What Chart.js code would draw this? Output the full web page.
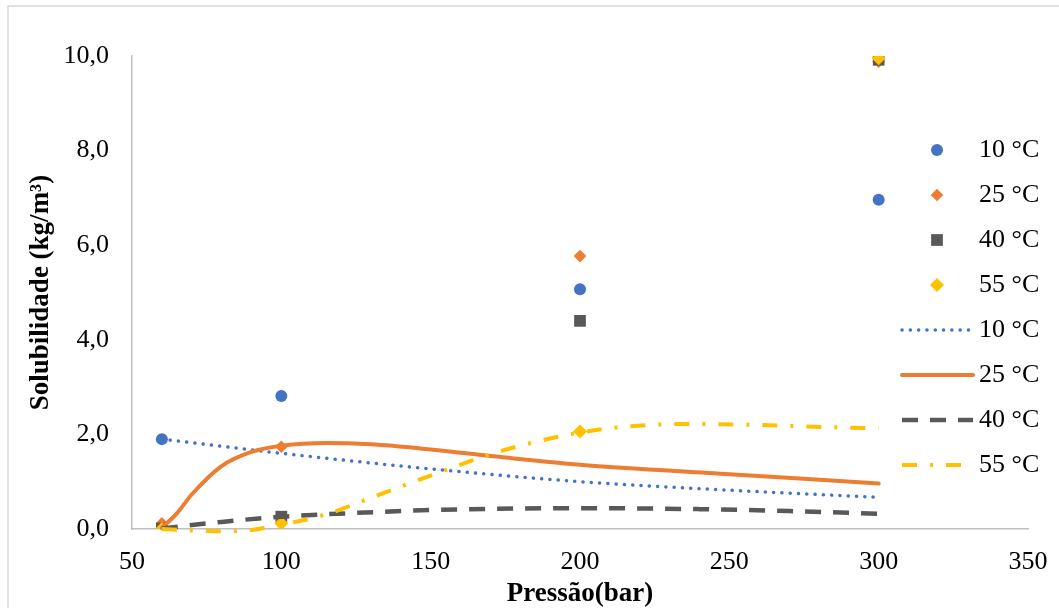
<!DOCTYPE html>
<html>
<head>
    <title>Solubilidade vs Pressão</title>
    <script src="https://cdn.jsdelivr.net/npm/chart.js"></script>
    <style>
        html, body {
            margin: 0;
            padding: 0;
            background: #ffffff;
        }
        .chart-container {
            width: 1059px;
            height: 608px;
        }
    </style>
</head>
<body>
    <div class="chart-container">
        <canvas id="solubilityChart"></canvas>
    </div>
    <script>
        // Experimental points (pressure in bar, solubility in kg/m3)
        const pressures = [60, 100, 200, 300];
        const exp10 = [1.90, 2.81, 5.07, 6.96];
        const exp25 = [0.12, 1.74, 5.77, 9.88];
        const exp40 = [0.01, 0.26, 4.40, 9.92];
        const exp55 = [0.00, 0.12, 2.06, 9.95];

        // Model curves
        const fitP10 = [60, 100, 150, 200, 250, 300];
        const fit10 = [1.90, 1.60, 1.27, 1.00, 0.82, 0.67];
        const fitP25 = [60, 65, 70, 80, 90, 100, 115, 130, 150, 175, 200, 250, 300];
        const fit25 = [0.02, 0.33, 0.73, 1.33, 1.63, 1.76, 1.82, 1.79, 1.68, 1.51, 1.36, 1.16, 0.96];
        const fitP40 = [60, 80, 100, 125, 150, 200, 240, 270, 300];
        const fit40 = [0.01, 0.15, 0.26, 0.34, 0.40, 0.44, 0.42, 0.38, 0.32];
        const fitP55 = [60, 70, 80, 90, 100, 115, 130, 150, 170, 185, 200, 215, 235, 260, 285, 300];
        const fit55 = [0.00, -0.03, -0.05, -0.02, 0.09, 0.31, 0.66, 1.13, 1.58, 1.84, 2.04, 2.16, 2.22, 2.20, 2.15, 2.13];

        const seriesLabels = ['10 °C', '25 °C', '40 °C', '55 °C'];
        const xTicks = [50, 100, 150, 200, 250, 300, 350];
        const yTicks = [0, 2, 4, 6, 8, 10];

        const BLUE = '#4472C4';
        const ORANGE = '#ED7D31';
        const GRAY = '#595959';
        const GOLD = '#FFC000';
        const SERIF = '"Liberation Serif", "Times New Roman", serif';

        const toXY = (xs, ys) => xs.map((x, i) => ({ x: x, y: ys[i] }));

        function pointSet(label, values, color, style, radius, order) {
            return {
                label: label,
                data: toXY(pressures, values),
                showLine: false,
                pointStyle: style,
                pointRadius: radius,
                pointHoverRadius: radius,
                pointBackgroundColor: color,
                pointBorderColor: color,
                pointBorderWidth: 0,
                order: order
            };
        }

        function curveSet(label, xs, ys, color, width, dash, cap, order) {
            return {
                label: label,
                data: toXY(xs, ys),
                showLine: true,
                borderColor: color,
                borderWidth: width,
                borderDash: dash,
                borderCapStyle: cap,
                cubicInterpolationMode: 'monotone',
                pointRadius: 0,
                pointHoverRadius: 0,
                clip: 8,
                order: order
            };
        }

        const datasets = [
            pointSet(seriesLabels[0], exp10, BLUE, 'circle', 6, 8),
            pointSet(seriesLabels[1], exp25, ORANGE, 'rectRot', 6.3, 7),
            pointSet(seriesLabels[2], exp40, GRAY, 'rect', 8.3, 6),
            pointSet(seriesLabels[3], exp55, GOLD, 'rectRot', 7, 5),
            curveSet(seriesLabels[0], fitP10, fit10, BLUE, 3.5, [0.1, 8.2], 'round', 4),
            curveSet(seriesLabels[1], fitP25, fit25, ORANGE, 4, [], 'round', 3),
            curveSet(seriesLabels[2], fitP40, fit40, GRAY, 4.5, [16, 12], 'butt', 2),
            curveSet(seriesLabels[3], fitP55, fit55, GOLD, 4, [15, 13, 3, 13], 'butt', 1)
        ];

        // outer frame of the chart
        const framePlugin = {
            id: 'frame',
            beforeDraw(chart) {
                const ctx = chart.ctx;
                ctx.save();
                ctx.fillStyle = '#ffffff';
                ctx.fillRect(0, 0, chart.width, chart.height);
                ctx.strokeStyle = '#D9D9D9';
                ctx.lineWidth = 1.5;
                ctx.strokeRect(8, 6, chart.width + 10, chart.height + 10);
                ctx.restore();
            }
        };

        // legend drawn over the right part of the plot
        const sideLegend = {
            id: 'sideLegend',
            afterDraw(chart, args, opts) {
                const ctx = chart.ctx;
                ctx.save();
                ctx.font = opts.font;
                ctx.textBaseline = 'middle';
                ctx.textAlign = 'left';
                chart.data.datasets.forEach((ds, i) => {
                    const y = opts.top + i * opts.spacing;
                    if (ds.showLine) {
                        ctx.beginPath();
                        ctx.strokeStyle = ds.borderColor;
                        ctx.lineWidth = ds.borderWidth;
                        ctx.lineCap = ds.borderCapStyle;
                        ctx.setLineDash(ds.borderDash);
                        ctx.moveTo(opts.lineStart, y);
                        ctx.lineTo(opts.lineEnd, y);
                        ctx.stroke();
                        ctx.setLineDash([]);
                    } else {
                        const r = ds.pointRadius;
                        const cx = opts.markerX;
                        ctx.fillStyle = ds.pointBackgroundColor;
                        ctx.beginPath();
                        if (ds.pointStyle === 'circle') {
                            ctx.arc(cx, y, r, 0, Math.PI * 2);
                        } else if (ds.pointStyle === 'rect') {
                            const h = r * Math.SQRT1_2;
                            ctx.rect(cx - h, y - h, 2 * h, 2 * h);
                        } else {
                            ctx.moveTo(cx, y - r);
                            ctx.lineTo(cx + r, y);
                            ctx.lineTo(cx, y + r);
                            ctx.lineTo(cx - r, y);
                            ctx.closePath();
                        }
                        ctx.fill();
                    }
                    ctx.fillStyle = '#000000';
                    ctx.fillText(ds.label, opts.textX, y);
                });
                ctx.restore();
            }
        };

        const ctx = document.getElementById('solubilityChart').getContext('2d');
        new Chart(ctx, {
            type: 'scatter',
            data: { datasets: datasets },
            plugins: [framePlugin, sideLegend],
            options: {
                responsive: true,
                maintainAspectRatio: false,
                animation: false,
                events: [],
                layout: {
                    padding: { left: 0, right: 31, top: 56, bottom: 0 }
                },
                plugins: {
                    legend: { display: false },
                    tooltip: { enabled: false },
                    sideLegend: {
                        font: '26px ' + SERIF,
                        top: 150,
                        spacing: 45,
                        markerX: 937,
                        lineStart: 902,
                        lineEnd: 973,
                        textX: 979
                    }
                },
                scales: {
                    x: {
                        type: 'linear',
                        min: 50,
                        max: 350,
                        afterBuildTicks(scale) {
                            scale.ticks = xTicks.map(v => ({ value: v }));
                        },
                        afterFit(scale) {
                            scale.height = 79;
                            scale.paddingLeft = 0;
                            scale.paddingRight = 0;
                        },
                        grid: { display: false, drawTicks: false },
                        border: { display: true, color: '#BFBFBF', width: 1.5 },
                        ticks: {
                            color: '#000000',
                            padding: 18,
                            maxRotation: 0,
                            font: { family: SERIF, size: 26 }
                        },
                        title: {
                            display: true,
                            text: 'Pressão(bar)',
                            color: '#000000',
                            padding: { top: 0, bottom: -2 },
                            font: { family: SERIF, size: 27, weight: 'bold' }
                        }
                    },
                    y: {
                        type: 'linear',
                        min: 0,
                        max: 10,
                        afterBuildTicks(scale) {
                            scale.ticks = yTicks.map(v => ({ value: v }));
                        },
                        afterFit(scale) {
                            scale.width = 132;
                        },
                        grid: { display: false, drawTicks: false },
                        border: { display: true, color: '#BFBFBF', width: 1.5 },
                        ticks: {
                            color: '#000000',
                            padding: 23,
                            font: { family: SERIF, size: 26 },
                            callback: v => v.toFixed(1).replace('.', ',')
                        },
                        title: {
                            display: true,
                            text: 'Solubilidade (kg/m³)',
                            color: '#000000',
                            padding: { top: 25, bottom: 0 },
                            font: { family: SERIF, size: 27, weight: 'bold' }
                        }
                    }
                }
            }
        });
    </script>
</body>
</html>
